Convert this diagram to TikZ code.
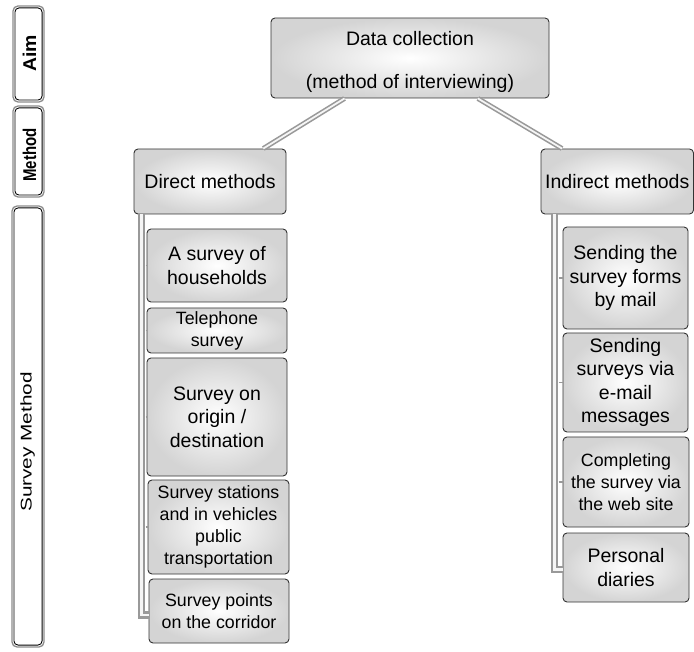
\documentclass[tikz,border=0pt]{standalone}
\usepackage{fontspec}
\setmainfont{Liberation Sans}
\usetikzlibrary{calc}
\tikzset{
  box/.style={rectangle, rounded corners=4pt, draw=black!80, line width=0.9pt,
    shading=radial, inner color=white, outer color=black!17,
    inner sep=0pt, align=center, font=\fontsize{19.5}{23.3}\selectfont},
  smallbox/.style={box, font=\fontsize{17.8}{22}\selectfont},
  tube/.style={draw=black!40, double=black!4, double distance=1.8pt, line width=1.6pt},
  bar/.style={draw=black!40, double=black!4, double distance=2.8pt, line width=2.5pt},
  stub/.style={draw=black!40, line width=1.2pt},
  tab/.style={rectangle, rounded corners=5pt, draw=black!45, line width=1.3pt, fill=white, inner sep=0pt},
  tabin/.style={rounded corners=4pt, draw=black, line width=0.9pt},
}
\begin{document}
\begin{tikzpicture}[x=1pt,y=-1pt]
\useasboundingbox (0,0) rectangle (694,652);

% left tabs
\node[tab, minimum width=31pt, minimum height=96pt] (aim) at (28.5,54) {};
\draw[tabin] ($(aim.north west)+(2.6,2.6)$) rectangle ($(aim.south east)+(-2.6,-2.6)$);
\node[rotate=90, inner sep=0pt, font=\fontsize{18.5}{20}\selectfont\bfseries] (aimt) at (29.5,53.5) {\scalebox{1.05}[1]{Aim}};

\node[tab, minimum width=31pt, minimum height=91pt] (meth) at (28.5,151.5) {};
\draw[tabin] ($(meth.north west)+(2.6,2.6)$) rectangle ($(meth.south east)+(-2.6,-2.6)$);
\node[rotate=90, inner sep=0pt, font=\fontsize{18.5}{20}\selectfont\bfseries] (metht) at (29.5,155) {\scalebox{0.81}[1]{Method}};

\node[tab, minimum width=32pt, minimum height=441pt] (surv) at (28,426.5) {};
\draw[tabin] ($(surv.north west)+(2.6,2.6)$) rectangle ($(surv.south east)+(-2.6,-2.6)$);
\node[rotate=90, inner sep=0pt, font=\fontsize{15.5}{17}\selectfont] (survt) at (27.5,442) {\scalebox{1.34}[1]{Survey Method}};

% main boxes
\node[box, minimum width=278pt, minimum height=80pt] (top) at (410,58) {\raisebox{-4pt}[\height][\depth]{\begin{tabular}{@{}c@{}}Data collection\\[19.7pt](method of interviewing)\end{tabular}}};
\node[box, minimum width=152pt, minimum height=65pt] (direct) at (210,181.5) {Direct methods};
\node[box, minimum width=152.5pt, minimum height=65pt] (indirect) at (617.25,181.5) {Indirect methods};

% connectors from the top box
\draw[tube] (top) -- (direct);
\draw[tube] (top) -- (indirect);

\node[box, minimum width=140pt, minimum height=73pt] (d1) at (217,265.5) {A survey of\\households};
\node[smallbox, minimum width=140pt, minimum height=45pt] (d2) at (217,330.5) {Telephone\\survey};
\node[box, minimum width=140pt, minimum height=118pt] (d3) at (217,417) {Survey on\\origin /\\destination};
\node[smallbox, minimum width=141pt, minimum height=94pt] (d4) at (218.5,527) {Survey stations\\and in vehicles\\public\\transportation};
\node[smallbox, minimum width=140pt, minimum height=64pt] (d5) at (219,611) {Survey points\\on the corridor};

\node[box, minimum width=125pt, minimum height=102pt] (i1) at (625.5,278) {Sending the\\survey forms\\by mail};
\node[box, minimum width=125pt, minimum height=99pt] (i2) at (625.5,382.5) {Sending\\surveys via\\e-mail\\messages};
\node[smallbox, minimum width=126pt, minimum height=90pt] (i3) at (626,482) {Completing\\the survey via\\the web site};
\node[box, minimum width=126pt, minimum height=69pt] (i4) at (626,567.5) {Personal\\diaries};

% vertical bars
\coordinate (dbar) at ($(direct.south west)+(8,0)$);
\coordinate (ibar) at ($(indirect.south west)+(14,0)$);
\draw[bar] (dbar) |- ($(d5.west)+(0,4)$);
\draw[bar] (ibar) |- ($(i4.west)+(0,2)$);
\foreach \n in {d1,d2,d3,d4} \draw[stub] (dbar |- \n.west) ++(4,0) -- (\n.west);
\foreach \n in {i1,i2,i3} \draw[stub] (ibar |- \n.west) ++(4,0) -- (\n.west);
\end{tikzpicture}
\end{document}
